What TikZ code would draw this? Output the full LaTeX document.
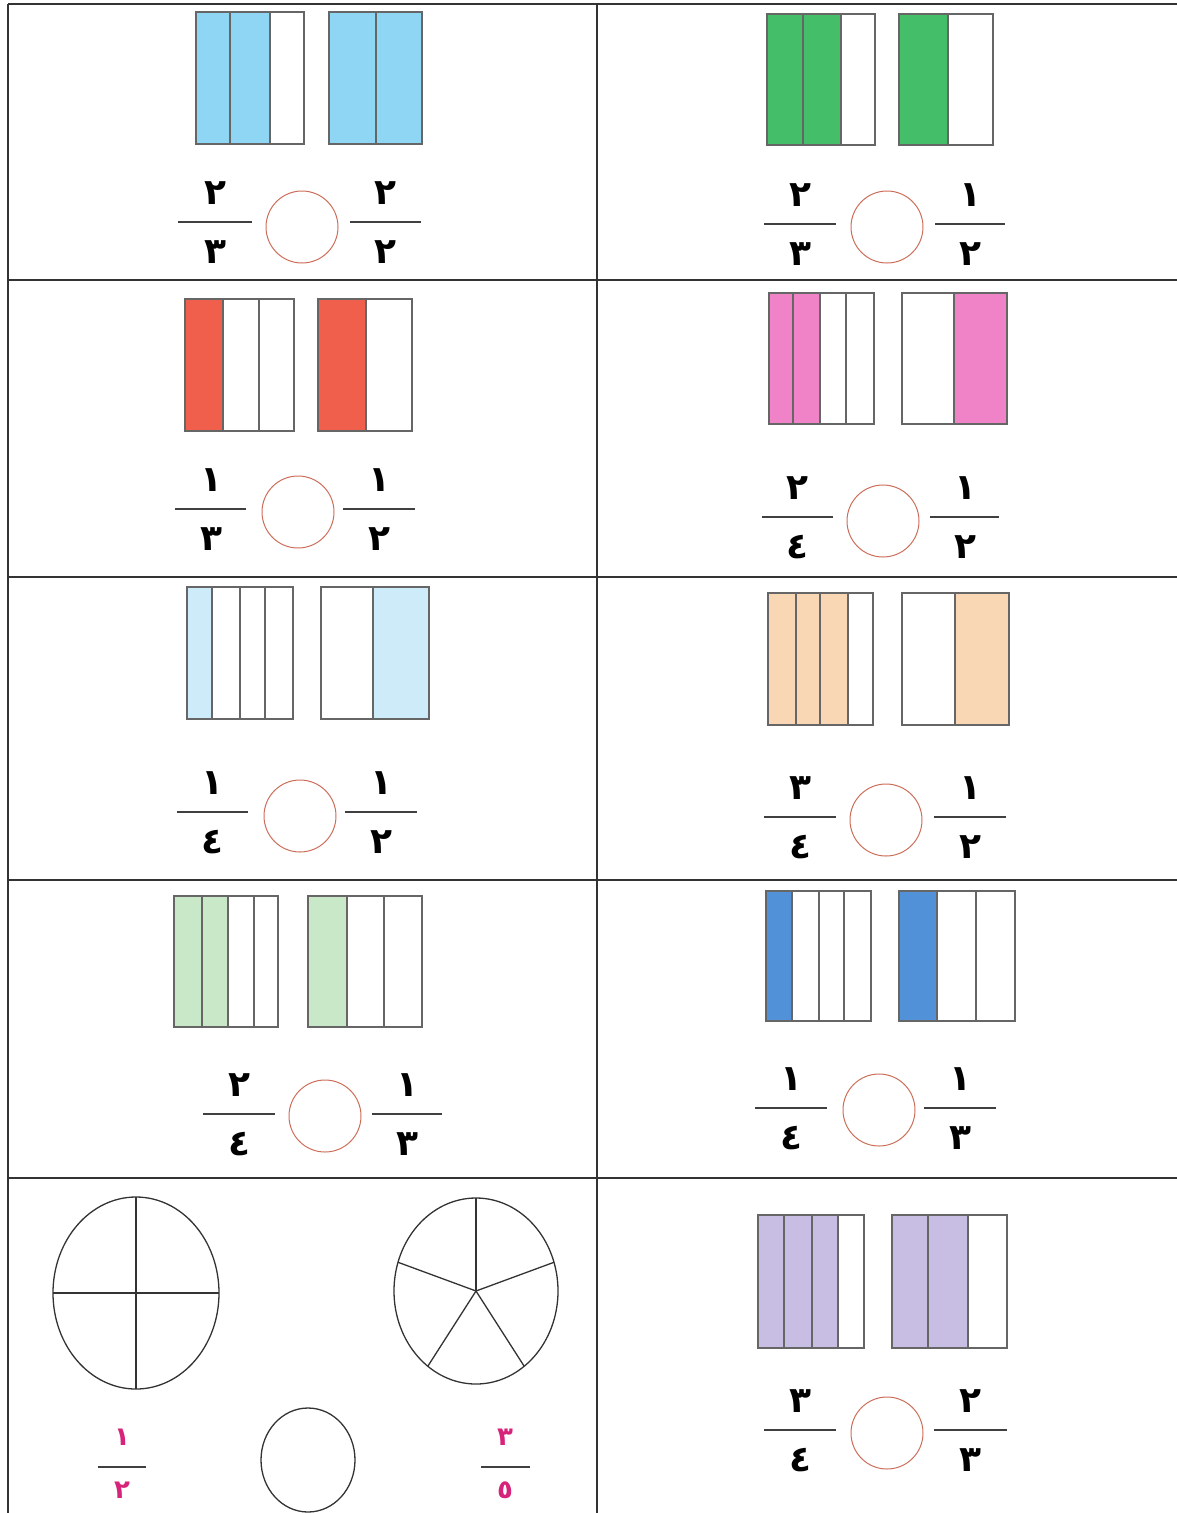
\documentclass[tikz,border=0pt]{standalone}
\usepackage{fontspec}
\newfontfamily\arabicfont[Script=Arabic]{DejaVu Sans}
\definecolor{skyb}{RGB}{143,214,245}
\definecolor{leaf}{RGB}{69,190,105}
\definecolor{tomato}{RGB}{240,95,75}
\definecolor{rose}{RGB}{240,130,200}
\definecolor{paleb}{RGB}{205,235,248}
\definecolor{peach}{RGB}{250,215,180}
\definecolor{mint}{RGB}{200,232,200}
\definecolor{steel}{RGB}{80,145,215}
\definecolor{lav}{RGB}{200,190,228}
\definecolor{circ}{RGB}{205,110,90}
\definecolor{magen}{RGB}{214,36,122}
\begin{document}
\begin{tikzpicture}[x=1pt,y=-1pt,
  grid/.style={line width=2pt,draw=black!80},
  bar/.style={line width=1.5pt,draw=black!60},
  fracline/.style={line width=2.4pt,draw=black!75},
  pie/.style={line width=1.3pt,draw=black!80},
  digit/.style={font=\arabicfont\bfseries\fontsize{36}{40}\selectfont,inner sep=0pt},
  pinkdigit/.style={font=\arabicfont\bfseries\fontsize{26}{30}\selectfont,text=magen,inner sep=0pt},
  cmp/.style={circle,draw=circ,line width=1pt,minimum size=72pt,inner sep=0pt}]
\useasboundingbox (0,0) rectangle (1177,1513);

\draw[grid] (8,4) -- (1177,4) (8,280) -- (1177,280) (8,577) -- (1177,577)
  (8,880) -- (1177,880) (8,1178) -- (1177,1178);
\draw[grid] (8,4) -- (8,1513) (597,4) -- (597,1513);

\fill[skyb] (196,12) rectangle (270,144);
\draw[bar] (196,12) rectangle (304,144) (230,12) -- (230,144) (270,12) -- (270,144);
\fill[skyb] (329,12) rectangle (422,144);
\draw[bar] (329,12) rectangle (422,144) (376,12) -- (376,144);
\node[digit] (n1a) at (215,193) {٢};
\node[digit] (d1a) at (215,252) {٣};
\draw[fracline] (178,222) -- (252,222);
\node[cmp] (c1a) at (302,227) {};
\node[digit] (n1b) at (385,193) {٢};
\node[digit] (d1b) at (385,252) {٢};
\draw[fracline] (350,222) -- (421,222);

\fill[leaf] (767,14) rectangle (841,145);
\draw[bar] (767,14) rectangle (875,145) (803,14) -- (803,145) (841,14) -- (841,145);
\fill[leaf] (899,14) rectangle (948,145);
\draw[bar] (899,14) rectangle (993,145) (948,14) -- (948,145);
\node[digit] (n1c) at (800,195) {٢};
\node[digit] (d1c) at (800,254) {٣};
\draw[fracline] (764,224) -- (836,224);
\node[cmp] (c1c) at (887,227) {};
\node[digit] (n1d) at (970,195) {١};
\node[digit] (d1d) at (970,254) {٢};
\draw[fracline] (935,224) -- (1005,224);

\fill[tomato] (185,299) rectangle (223,431);
\draw[bar] (185,299) rectangle (294,431) (223,299) -- (223,431) (259,299) -- (259,431);
\fill[tomato] (318,299) rectangle (366,431);
\draw[bar] (318,299) rectangle (412,431) (366,299) -- (366,431);
\node[digit] (n2a) at (211,480) {١};
\node[digit] (d2a) at (211,539) {٣};
\draw[fracline] (175,509) -- (246,509);
\node[cmp] (c2a) at (298,512) {};
\node[digit] (n2b) at (379,480) {١};
\node[digit] (d2b) at (379,539) {٢};
\draw[fracline] (343,509) -- (415,509);

\fill[rose] (769,293) rectangle (820,424);
\draw[bar] (769,293) rectangle (874,424) (793,293) -- (793,424) (820,293) -- (820,424)
  (846,293) -- (846,424);
\fill[rose] (954,293) rectangle (1007,424);
\draw[bar] (902,293) rectangle (1007,424) (954,293) -- (954,424);
\node[digit] (n2c) at (797,488) {٢};
\node[digit] (d2c) at (797,547) {٤};
\draw[fracline] (762,517) -- (833,517);
\node[cmp] (c2c) at (883,521) {};
\node[digit] (n2d) at (965,488) {١};
\node[digit] (d2d) at (965,547) {٢};
\draw[fracline] (930,517) -- (999,517);

\fill[paleb] (187,587) rectangle (212,719);
\draw[bar] (187,587) rectangle (293,719) (212,587) -- (212,719) (240,587) -- (240,719)
  (265,587) -- (265,719);
\fill[paleb] (373,587) rectangle (429,719);
\draw[bar] (321,587) rectangle (429,719) (373,587) -- (373,719);
\node[digit] (n3a) at (212,783) {١};
\node[digit] (d3a) at (212,842) {٤};
\draw[fracline] (177,812) -- (248,812);
\node[cmp] (c3a) at (300,816) {};
\node[digit] (n3b) at (381,783) {١};
\node[digit] (d3b) at (381,842) {٢};
\draw[fracline] (345,812) -- (417,812);

\fill[peach] (768,593) rectangle (848,725);
\draw[bar] (768,593) rectangle (873,725) (796,593) -- (796,725) (820,593) -- (820,725)
  (848,593) -- (848,725);
\fill[peach] (955,593) rectangle (1009,725);
\draw[bar] (902,593) rectangle (1009,725) (955,593) -- (955,725);
\node[digit] (n3c) at (800,788) {٣};
\node[digit] (d3c) at (800,847) {٤};
\draw[fracline] (764,817) -- (836,817);
\node[cmp] (c3c) at (886,820) {};
\node[digit] (n3d) at (970,788) {١};
\node[digit] (d3d) at (970,847) {٢};
\draw[fracline] (934,817) -- (1006,817);

\fill[mint] (174,896) rectangle (228,1027);
\draw[bar] (174,896) rectangle (278,1027) (202,896) -- (202,1027) (228,896) -- (228,1027)
  (254,896) -- (254,1027);
\fill[mint] (308,896) rectangle (347,1027);
\draw[bar] (308,896) rectangle (422,1027) (347,896) -- (347,1027) (384,896) -- (384,1027);
\node[digit] (n4a) at (239,1085) {٢};
\node[digit] (d4a) at (239,1144) {٤};
\draw[fracline] (203,1114) -- (275,1114);
\node[cmp] (c4a) at (325,1116) {};
\node[digit] (n4b) at (407,1085) {١};
\node[digit] (d4b) at (407,1144) {٣};
\draw[fracline] (372,1114) -- (442,1114);

\fill[steel] (766,891) rectangle (792,1021);
\draw[bar] (766,891) rectangle (871,1021) (792,891) -- (792,1021) (819,891) -- (819,1021)
  (844,891) -- (844,1021);
\fill[steel] (899,891) rectangle (937,1021);
\draw[bar] (899,891) rectangle (1015,1021) (937,891) -- (937,1021) (976,891) -- (976,1021);
\node[digit] (n4c) at (791,1079) {١};
\node[digit] (d4c) at (791,1138) {٤};
\draw[fracline] (755,1108) -- (827,1108);
\node[cmp] (c4c) at (879,1110) {};
\node[digit] (n4d) at (960,1079) {١};
\node[digit] (d4d) at (960,1138) {٣};
\draw[fracline] (924,1108) -- (996,1108);

\draw[pie] (136,1293) ellipse [x radius=83pt,y radius=96pt];
\draw[pie] (136,1197) -- (136,1389) (53,1293) -- (219,1293);
\draw[pie] (476,1291) ellipse [x radius=82pt,y radius=93pt];
\foreach \a in {90,18,162,234,306}
  \draw[pie] (476,1291) -- ++({82*cos(\a)},{-93*sin(\a)});
\draw[pie] (308,1460) ellipse [x radius=47pt,y radius=52pt];
\node[pinkdigit] (n5a) at (122,1437) {١};
\node[pinkdigit] (d5a) at (122,1490) {٢};
\draw[line width=1.8pt,draw=black!75] (98,1467) -- (146,1467);
\node[pinkdigit] (n5b) at (505,1437) {٣};
\node[pinkdigit] (d5b) at (505,1490) {٥};
\draw[line width=1.8pt,draw=black!75] (481,1467) -- (530,1467);

\fill[lav] (758,1215) rectangle (838,1348);
\draw[bar] (758,1215) rectangle (864,1348) (784,1215) -- (784,1348) (812,1215) -- (812,1348)
  (838,1215) -- (838,1348);
\fill[lav] (892,1215) rectangle (968,1348);
\draw[bar] (892,1215) rectangle (1007,1348) (928,1215) -- (928,1348) (968,1215) -- (968,1348);
\node[digit] (n5c) at (800,1401) {٣};
\node[digit] (d5c) at (800,1460) {٤};
\draw[fracline] (764,1430) -- (836,1430);
\node[cmp] (c5c) at (887,1433) {};
\node[digit] (n5d) at (970,1401) {٢};
\node[digit] (d5d) at (970,1460) {٣};
\draw[fracline] (934,1430) -- (1007,1430);
\end{tikzpicture}
\end{document}
